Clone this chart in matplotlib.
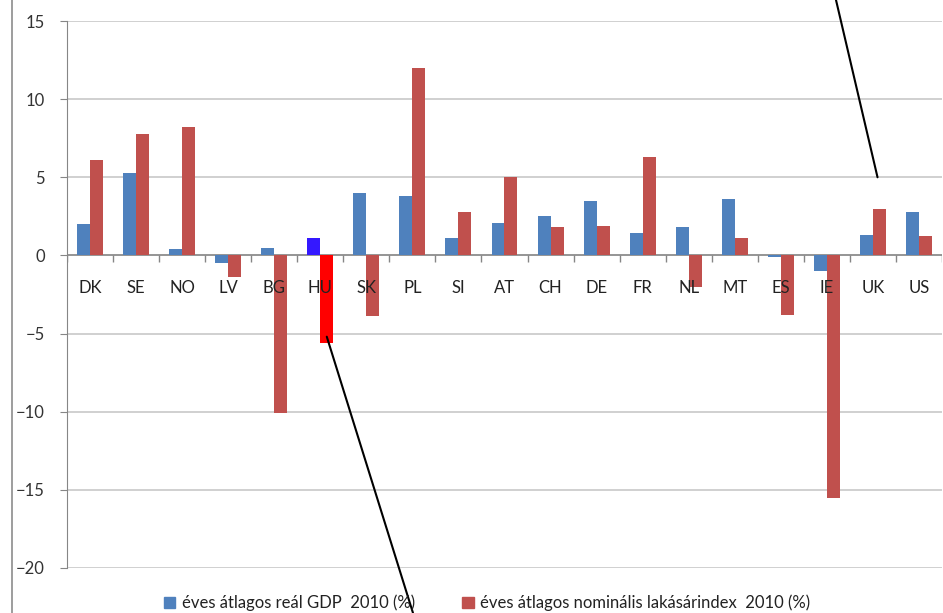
import numpy as np
import matplotlib
matplotlib.use("Agg")
import matplotlib.pyplot as plt
from matplotlib.lines import Line2D
from matplotlib.patches import Patch

plt.rcParams['font.family'] = ['Lato', 'DejaVu Sans']

countries = ['DK', 'SE', 'NO', 'LV', 'BG', 'HU', 'SK', 'PL', 'SI', 'AT',
             'CH', 'DE', 'FR', 'NL', 'MT', 'ES', 'IE', 'UK', 'US']
gdp = [2.0, 5.3, 0.4, -0.5, 0.5, 1.1, 4.0, 3.8, 1.1, 2.1,
       2.5, 3.5, 1.45, 1.8, 3.6, -0.1, -1.0, 1.3, 2.8]
house = [6.1, 7.8, 8.2, -1.4, -10.1, -5.6, -3.9, 12.0, 2.8, 5.05,
         1.8, 1.9, 6.3, -2.0, 1.1, -3.8, -15.5, 3.0, 1.25]
gdp_label = 'éves átlagos reál GDP  2010 (%)'
house_label = 'éves átlagos nominális lakásárindex  2010 (%)'
highlight = 'HU'

blue, red = '#4F81BD', '#C0504D'
blue_hi, red_hi = '#3418FF', '#FF0000'

fig = plt.figure(figsize=(9.43, 6.13), dpi=100)
ax = fig.add_axes([67 / 943, 1 - 568 / 613, 875 / 943, 547 / 613])

x = np.arange(len(countries))
w = 0.282
gcol = [blue_hi if c == highlight else blue for c in countries]
hcol = [red_hi if c == highlight else red for c in countries]
ax.bar(x - w / 2, gdp, w, color=gcol, zorder=3)
ax.bar(x + w / 2, house, w, color=hcol, zorder=3)

ax.set_xlim(-0.5, len(countries) - 0.5)
ax.set_ylim(-20, 15)
ax.set_yticks(np.arange(-20, 16, 5))
ax.yaxis.grid(True, color='#C4C4C4', lw=1.1, zorder=0)
ax.set_xticks([])
ax.tick_params(axis='y', length=5, color='#868686', labelsize=12,
               labelcolor='#333333', pad=11)
for s in ['top', 'right', 'bottom']:
    ax.spines[s].set_visible(False)
ax.spines['left'].set_color('#868686')

# horizontal category axis at zero with small ticks between groups
ax.axhline(0, color='#868686', lw=1.1, zorder=2)
ax.vlines(np.arange(len(countries) + 1) - 0.5, 0, -0.4, color='#868686', lw=1, zorder=2)
for i, c in enumerate(countries):
    ax.annotate(c, (i, 0), xytext=(0, -18), textcoords='offset points',
                ha='center', va='top', fontsize=12, color='#222222', zorder=5)

# leader lines
ax.annotate('', xy=(5 + w / 2, -5.2), xycoords='data',
            xytext=(413 / 943, 0), textcoords='figure fraction',
            arrowprops=dict(arrowstyle='-', color='black', lw=1.5, shrinkA=0, shrinkB=0),
            annotation_clip=False)
ax.annotate('', xy=(17.1, 5.0), xycoords='data',
            xytext=(836 / 943, 1.0), textcoords='figure fraction',
            arrowprops=dict(arrowstyle='-', color='black', lw=1.5, shrinkA=0, shrinkB=0),
            annotation_clip=False)

# chart-area border on the left
fig.add_artist(Line2D([12 / 943, 12 / 943], [0, 1], color='#8C8C8C', lw=1.2))

handles = [Patch(color=blue), Patch(color=red)]
fig.legend(handles, [gdp_label, house_label], loc='center', ncol=2,
           bbox_to_anchor=(487 / 943, 1 - 603 / 613), frameon=False,
           fontsize=12, handlelength=0.7, handleheight=0.7, handletextpad=0.4,
           columnspacing=2.8, labelcolor='#222222')

fig.savefig('out.png', dpi=100)
